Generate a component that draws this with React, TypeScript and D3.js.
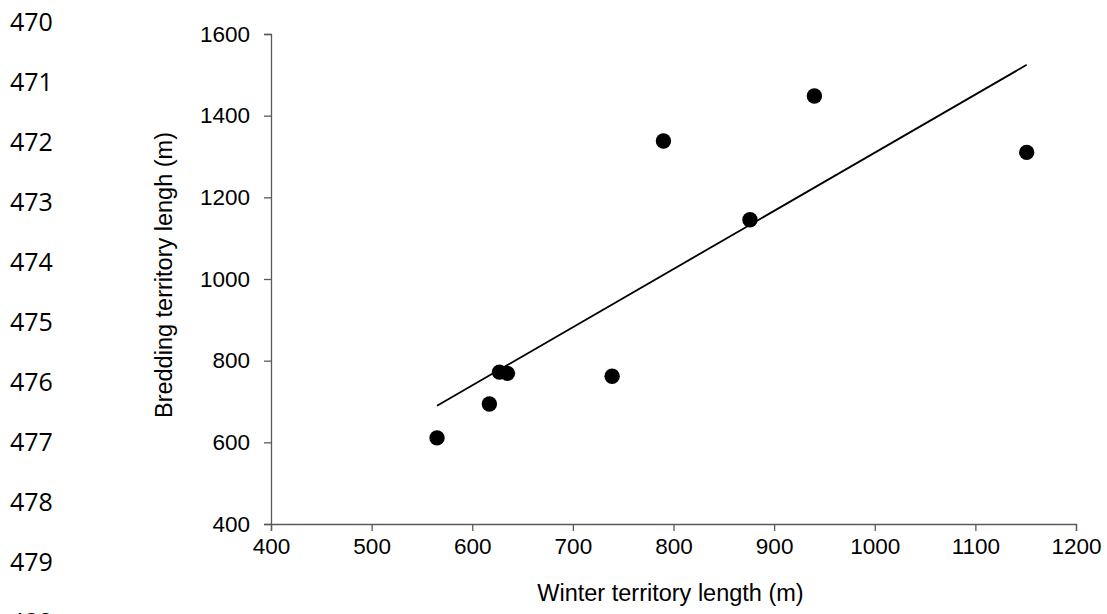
import React, { useEffect, useRef } from 'react'
import * as d3 from 'd3'

// winter vs breeding territory length, one point per bird
const winterLength = [565, 617, 627, 635, 739, 790, 876, 940, 1151]
const breedingLength = [611, 694, 772, 769, 762, 1338, 1145, 1448, 1310]

const xTicks = [400, 500, 600, 700, 800, 900, 1000, 1100, 1200]
const yTicks = [400, 600, 800, 1000, 1200, 1400, 1600]

// manuscript line numbers down the left margin
const lineNumbers = [470, 471, 472, 473, 474, 475, 476, 477, 478, 479, 480]

const W = 1107, H = 614
const plot = { left: 271, right: 1076, top: 34, bottom: 524 }
const axisColor = '#595959'
const font = '"Liberation Sans", Arial, sans-serif'

const App = () => {
  const ref = useRef<SVGSVGElement>(null)

  useEffect(() => {
    const svg = d3.select(ref.current)
    svg.selectAll('*').remove()

    const x = d3.scaleLinear().domain([400, 1200]).range([plot.left, plot.right])
    const y = d3.scaleLinear().domain([400, 1600]).range([plot.bottom, plot.top])

    // line numbers
    const ln = d3.scaleLinear().domain([470, 479]).range([30.7, 570.7])
    svg.append('g')
      .attr('font-family', '"Open Sans", sans-serif')
      .attr('font-size', 25)
      .attr('fill', '#000')
      .selectAll('text')
      .data(lineNumbers)
      .join('text')
      .attr('x', 10)
      .attr('y', d => ln(d))
      .text(d => d)

    // y axis
    const yAxis = svg.append('g')
      .attr('transform', `translate(${plot.left},0)`)
      .call(d3.axisLeft(y).tickValues(yTicks).tickSize(7).tickPadding(14).tickFormat(d3.format('d')))
    yAxis.select('.domain').attr('stroke', axisColor).attr('stroke-width', 1.3)
    yAxis.selectAll('.tick line').attr('stroke', axisColor).attr('stroke-width', 1.3)
    yAxis.selectAll('.tick text')
      .attr('font-family', font)
      .attr('font-size', 22.5)
      .attr('fill', '#000')

    // x axis
    const xAxis = svg.append('g')
      .attr('transform', `translate(0,${plot.bottom})`)
      .call(d3.axisBottom(x).tickValues(xTicks).tickSize(7).tickPadding(7).tickFormat(d3.format('d')))
    xAxis.select('.domain').attr('stroke', axisColor).attr('stroke-width', 1.3)
    xAxis.selectAll('.tick line').attr('stroke', axisColor).attr('stroke-width', 1.3)
    xAxis.selectAll('.tick text')
      .attr('font-family', font)
      .attr('font-size', 22.5)
      .attr('fill', '#000')

    // axis titles
    svg.append('text')
      .attr('x', 670.5)
      .attr('y', 601)
      .attr('text-anchor', 'middle')
      .attr('font-family', font)
      .attr('font-size', 23.5)
      .text('Winter territory length (m)')

    svg.append('text')
      .attr('transform', 'translate(171.5,275) rotate(-90)')
      .attr('text-anchor', 'middle')
      .attr('font-family', font)
      .attr('font-size', 23.5)
      .text('Bredding territory lengh (m)')

    // least squares trend line
    const data = winterLength.map((w, i) => [w, breedingLength[i]] as [number, number])
    const mx = d3.mean(winterLength) as number
    const my = d3.mean(breedingLength) as number
    const sxy = d3.sum(data, d => (d[0] - mx) * (d[1] - my))
    const sxx = d3.sum(data, d => (d[0] - mx) ** 2)
    const slope = sxy / sxx
    const [x0, x1] = d3.extent(winterLength) as [number, number]
    const fit = [x0, x1].map(v => [v, my + slope * (v - mx)] as [number, number])

    svg.append('path')
      .datum(fit)
      .attr('fill', 'none')
      .attr('stroke', '#000')
      .attr('stroke-width', 1.8)
      .attr('d', d3.line<[number, number]>().x(d => x(d[0])).y(d => y(d[1])))

    svg.append('g')
      .selectAll('circle')
      .data(data)
      .join('circle')
      .attr('cx', d => x(d[0]))
      .attr('cy', d => y(d[1]))
      .attr('r', 7.7)
      .attr('fill', '#000')
  }, [])

  return (
    <svg ref={ref} width={W} height={H}
      style={{ position: 'absolute', left: 0, top: 0, background: '#fff' }} />
  )
}

export default App
